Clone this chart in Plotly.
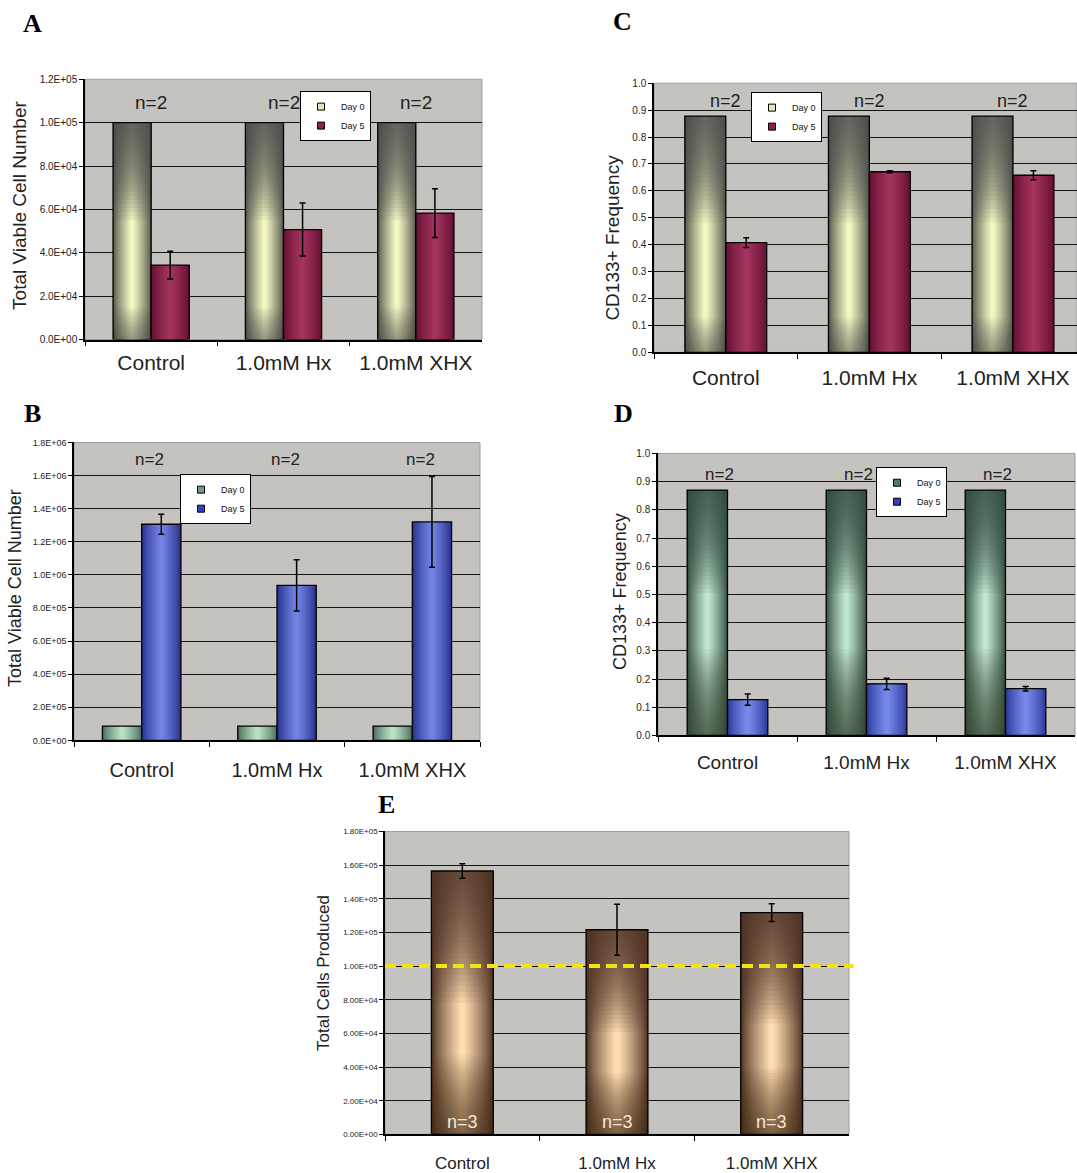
import plotly.graph_objects as go

# ---------------- data ----------------
categories = ["Control", "1.0mM Hx", "1.0mM XHX"]

a_day0 = [1.0e5, 1.0e5, 1.0e5]
a_day5 = [3.43e4, 5.07e4, 5.83e4]
a_day5_err = [0.64e4, 1.22e4, 1.12e4]
a_n = ["n=2", "n=2", "n=2"]

b_day0 = [8.6e4, 8.6e4, 8.6e4]
b_day5 = [1.306e6, 0.937e6, 1.320e6]
b_day5_err = [0.060e6, 0.155e6, 0.274e6]
b_n = ["n=2", "n=2", "n=2"]

c_day0 = [0.878, 0.878, 0.878]
c_day5 = [0.408, 0.671, 0.658]
c_day5_err = [0.018, 0.004, 0.017]
c_n = ["n=2", "n=2", "n=2"]

d_day0 = [0.870, 0.870, 0.870]
d_day5 = [0.127, 0.183, 0.166]
d_day5_err = [0.020, 0.020, 0.008]
d_n = ["n=2", "n=2", "n=2"]

e_total = [1.565e5, 1.216e5, 1.318e5]
e_total_err = [0.043e5, 0.152e5, 0.053e5]
e_n = ["n=3", "n=3", "n=3"]
e_seeded = 1.0e5

a_tickvals = [0, 2e4, 4e4, 6e4, 8e4, 1e5, 1.2e5]
a_ticktext = ["0.0E+00", "2.0E+04", "4.0E+04", "6.0E+04", "8.0E+04", "1.0E+05", "1.2E+05"]
b_tickvals = [0, 2e5, 4e5, 6e5, 8e5, 1e6, 1.2e6, 1.4e6, 1.6e6, 1.8e6]
b_ticktext = ["0.0E+00", "2.0E+05", "4.0E+05", "6.0E+05", "8.0E+05", "1.0E+06",
              "1.2E+06", "1.4E+06", "1.6E+06", "1.8E+06"]
freq_tickvals = [0, 0.1, 0.2, 0.3, 0.4, 0.5, 0.6, 0.7, 0.8, 0.9, 1.0]
freq_ticktext = ["0.0", "0.1", "0.2", "0.3", "0.4", "0.5", "0.6", "0.7", "0.8", "0.9", "1.0"]
e_tickvals = [0, 2e4, 4e4, 6e4, 8e4, 1e5, 1.2e5, 1.4e5, 1.6e5, 1.8e5]
e_ticktext = ["0.00E+00", "2.00E+04", "4.00E+04", "6.00E+04", "8.00E+04", "1.00E+05",
              "1.20E+05", "1.40E+05", "1.60E+05", "1.80E+05"]

# ---------------- helpers ----------------
W, H = 1077, 1173
FONT = "Liberation Sans, Arial, sans-serif"
SERIF = "Liberation Serif, Times New Roman, serif"
N_STEPS = 22
V_STEPS = 24


def px(x):
    return x / W


def py(y):
    return 1 - y / H


def xn(i):
    return "x" if i == 1 else "x%d" % i


def yn(i):
    return "y" if i == 1 else "y%d" % i


def hex2rgb(h):
    h = h.lstrip("#")
    return [int(h[i:i + 2], 16) for i in (0, 2, 4)]


def mix(c1, c2, t):
    a, b = hex2rgb(c1), hex2rgb(c2)
    r = [round(a[i] + (b[i] - a[i]) * t) for i in range(3)]
    return "rgb(%d,%d,%d)" % tuple(r)


def rgba(c, a):
    r = hex2rgb(c)
    return "rgba(%d,%d,%d,%.3f)" % (r[0], r[1], r[2], a)


fig = go.Figure()


def gradient_bars(idx, values, errors, c_off, w, edge, center,
                  top=(0.0, 0.0), bottom=(0.0, 0.0)):
    """Bars with a cylinder-like shading: horizontal steps + vertical darkening."""
    xa, ya = xn(idx), yn(idx)
    for k in range(N_STEPS):
        t = k / (N_STEPS - 1)
        wk = w * (1 - 0.92 * t)
        col = mix(edge, center, t ** 0.8)
        fig.add_trace(go.Bar(
            x=categories, y=values, width=wk, offset=c_off - wk / 2, xaxis=xa, yaxis=ya,
            marker=dict(color=col, line=dict(width=0)),
            showlegend=False, hoverinfo="skip"))
    for (frac, target), at_top in ((top, True), (bottom, False)):
        if frac <= 0:
            continue
        a = 1 - (1 - target) ** (1.0 / V_STEPS)
        for j in range(V_STEPS):
            f = frac * (j + 1) / V_STEPS
            fig.add_trace(go.Bar(
                x=categories, y=[v * f for v in values],
                base=[v * (1 - f) for v in values] if at_top else None,
                width=w, offset=c_off - w / 2, xaxis=xa, yaxis=ya,
                marker=dict(color=rgba(edge, a), line=dict(width=0)),
                showlegend=False, hoverinfo="skip"))
    err = dict(type="data", array=errors, color="black", thickness=1.5, width=3,
               visible=True) if errors is not None else None
    fig.add_trace(go.Bar(
        x=categories, y=values, width=w, offset=c_off - w / 2, xaxis=xa, yaxis=ya,
        marker=dict(color="rgba(0,0,0,0)", line=dict(width=1.3, color="black")),
        error_y=err, showlegend=False, hoverinfo="skip"))


def legend_entry(idx, legend, name, color):
    fig.add_trace(go.Scatter(
        x=[None], y=[None], mode="markers", name=name, legend=legend,
        xaxis=xn(idx), yaxis=yn(idx),
        marker=dict(symbol="square", size=7, color=color, line=dict(color="black", width=1))))


# ---------------- panels ----------------
geo = {
    1: (85, 482, 74, 337),     # A
    2: (74, 480, 441, 742),    # B
    3: (654, 1077, 78, 350),   # C
    4: (658, 1075, 452, 737),  # D
    5: (385, 849, 834, 1140),  # E
}

# A
gradient_bars(1, a_day0, None, -0.144, 0.288, "#55564a", "#f4f6c4", (0.45, 0.85), (0.15, 0.5))
gradient_bars(1, a_day5, a_day5_err, 0.144, 0.288, "#621032", "#a3335f")
legend_entry(1, "legend", "Day 0", "#e6e6b4")
legend_entry(1, "legend", "Day 5", "#8c1f4c")
# B
gradient_bars(2, b_day0, None, -0.145, 0.29, "#4a6a5a", "#b8e2c6")
gradient_bars(2, b_day5, b_day5_err, 0.145, 0.29, "#26308c", "#7283e2")
legend_entry(2, "legend2", "Day 0", "#6f9a86")
legend_entry(2, "legend2", "Day 5", "#3242b4")
# C
gradient_bars(3, c_day0, None, -0.1425, 0.285, "#55564a", "#f4f6c4", (0.45, 0.85), (0.15, 0.5))
gradient_bars(3, c_day5, c_day5_err, 0.1425, 0.285, "#621032", "#a3335f")
legend_entry(3, "legend3", "Day 0", "#e6e6b4")
legend_entry(3, "legend3", "Day 5", "#8c1f4c")
# D
gradient_bars(4, d_day0, None, -0.145, 0.29, "#37503f", "#c0e6d0", (0.42, 0.85), (0.35, 0.75))
gradient_bars(4, d_day5, d_day5_err, 0.145, 0.29, "#2a389c", "#7689e8")
legend_entry(4, "legend4", "Day 0", "#4f7a66")
legend_entry(4, "legend4", "Day 5", "#3040c0")
# E
gradient_bars(5, e_total, e_total_err, 0.0, 0.40, "#4e3322", "#ffdcb2", (0.5, 0.85), (0.3, 0.65))

ticks = {
    1: (a_tickvals, a_ticktext, [0, 1.2e5], 10),
    2: (b_tickvals, b_ticktext, [0, 1.8e6], 9),
    3: (freq_tickvals, freq_ticktext, [0, 1.0], 10),
    4: (freq_tickvals, freq_ticktext, [0, 1.0], 10),
    5: (e_tickvals, e_ticktext, [0, 1.8e5], 8),
}
xfont = {1: 21, 2: 20, 3: 21, 4: 19, 5: 17}
xstand = {1: 3, 2: 11, 3: 6, 4: 9, 5: 13}
xranges = {1: [-0.5, 2.5], 2: [-0.5, 2.5], 3: [-0.5, 2.446], 4: [-0.5, 2.5], 5: [-0.5, 2.5]}

layout = dict(
    width=W, height=H, margin=dict(l=0, r=0, t=0, b=0),
    paper_bgcolor="white", plot_bgcolor="#c4c3c0",
    barmode="overlay", font=dict(family=FONT, color="#1a1a1a"),
    showlegend=True,
)
for i, (x0, x1, yt, yb) in geo.items():
    tv, tt, rng, tfs = ticks[i]
    xk = "xaxis" if i == 1 else "xaxis%d" % i
    yk = "yaxis" if i == 1 else "yaxis%d" % i
    layout[xk] = dict(
        domain=[px(x0), px(x1)], anchor=yn(i), type="category",
        categoryorder="array", categoryarray=categories, range=xranges[i],
        tickson="boundaries", ticks="outside", ticklen=5, tickcolor="black", tickwidth=1.3,
        showline=True, linecolor="black", linewidth=1.5, showgrid=False, zeroline=False,
        tickfont=dict(size=xfont[i], color="#222"), ticklabelstandoff=xstand[i], fixedrange=True)
    layout[yk] = dict(
        domain=[py(yb), py(yt)], anchor=xn(i), range=rng,
        tickvals=tv, ticktext=tt, ticks="outside", ticklen=4, tickcolor="black", tickwidth=1.3,
        showline=True, linecolor="black", linewidth=1.5, zeroline=False,
        showgrid=True, gridcolor="#151515", gridwidth=1.3,
        tickfont=dict(size=tfs, color="#222"), fixedrange=True)

legend_common = dict(bgcolor="white", bordercolor="black", borderwidth=1,
                     font=dict(size=9, family=FONT, color="#111"), itemwidth=30,
                     xanchor="left", yanchor="top", tracegroupgap=0, itemclick=False)
layout["legend"] = dict(x=px(300), y=py(86), **legend_common)
layout["legend2"] = dict(x=px(180), y=py(473), **legend_common)
layout["legend3"] = dict(x=px(751), y=py(87), **legend_common)
layout["legend4"] = dict(x=px(876), y=py(466), **legend_common)

fig.update_layout(**layout)

for i in geo:
    fig.add_shape(type="rect", xref="%s domain" % xn(i), yref="%s domain" % yn(i),
                  x0=0, x1=1, y0=0, y1=1, line=dict(color="#9c9c9c", width=1), layer="below")
fig.add_shape(type="line", xref="x5 domain", yref="y5", x0=0, x1=1.01,
              y0=e_seeded, y1=e_seeded, line=dict(color="#f2e412", width=4, dash="11px,6px"),
              layer="above")

n_specs = [
    (1, a_n, (337 - 98) / 263, 19, 0, "#222"),
    (2, b_n, (742 - 458) / 301, 17, 8, "#222"),
    (3, c_n, (350 - 96) / 272, 18, 0, "#222"),
    (4, d_n, (737 - 473) / 285, 17, -8, "#222"),
    (5, e_n, (1140 - 1128) / 306, 18, 0, "#f4e6d6"),
]
for i, labels, yfrac, fs, xs, col in n_specs:
    for cat, lab in zip(categories, labels):
        fig.add_annotation(x=cat, xref=xn(i), y=yfrac, yref="%s domain" % yn(i),
                           xanchor="center", yanchor="middle",
                           text=lab, showarrow=False, xshift=xs,
                           font=dict(size=fs, color=col, family=FONT))

ytitles = [
    ("Total Viable Cell Number", 20, 202, 19),
    ("Total Viable Cell Number", 15, 588, 18),
    ("CD133+ Frequency", 613, 234, 19),
    ("CD133+ Frequency", 620, 592, 18),
    ("Total Cells Produced", 323, 977, 17),
]
for txt, x, y, fs in ytitles:
    fig.add_annotation(x=px(x), y=py(y), xref="paper", yref="paper", text=txt,
                       xanchor="center", yanchor="middle",
                       textangle=-90, showarrow=False, font=dict(size=fs, family=FONT, color="#222"))

letters = [("A", 32, 18), ("B", 32, 412), ("C", 622, 16), ("D", 623, 412), ("E", 386, 807)]
for t, x, y in letters:
    fig.add_annotation(x=px(x), y=py(y), xref="paper", yref="paper", text="<b>%s</b>" % t,
                       xanchor="center", yanchor="middle",
                       showarrow=False, font=dict(size=26, family=SERIF, color="black"))

fig.write_html("out.html")
